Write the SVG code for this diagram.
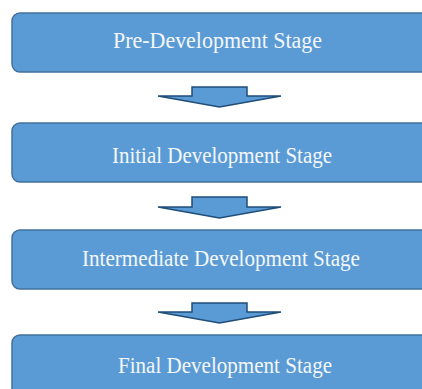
<svg xmlns="http://www.w3.org/2000/svg" width="422" height="389" viewBox="0 0 422 389">
<style>
.box{fill:#5b9bd5;stroke:#41719c;stroke-width:1.5}
.lbl{fill:#f4f7fb;font-family:"Liberation Serif","Times New Roman",serif;font-size:24px;text-anchor:middle}
.arr{fill:#5b9bd5;stroke:#1f4e79;stroke-width:1.5;stroke-linejoin:miter}
</style>
<rect width="422" height="389" fill="#ffffff"/>
<g id="connectors">
<path class="arr" d="M192,87 H247 V96 H281 L219.5,107 L158,96 H192 Z"/>
<path class="arr" d="M192,197 H247 V207 H281 L219.5,218 L158,207 H192 Z"/>
<path class="arr" d="M192,303 H247 V312 H281 L219.5,323 L158,312 H192 Z"/>
</g>
<g id="node1">
<rect class="box" x="12" y="13" width="430" height="59" rx="8"/>
<text class="lbl" x="217.5" y="48" textLength="209" lengthAdjust="spacingAndGlyphs">Pre-Development Stage</text>
</g>
<g id="node2">
<rect class="box" x="12" y="123" width="430" height="59" rx="8"/>
<text class="lbl" x="222" y="163" textLength="220" lengthAdjust="spacingAndGlyphs">Initial Development Stage</text>
</g>
<g id="node3">
<rect class="box" x="12" y="230" width="430" height="59" rx="8"/>
<text class="lbl" x="221" y="266" textLength="278" lengthAdjust="spacingAndGlyphs">Intermediate Development Stage</text>
</g>
<g id="node4">
<rect class="box" x="12" y="335" width="430" height="70" rx="8"/>
<text class="lbl" x="225" y="373" textLength="214" lengthAdjust="spacingAndGlyphs">Final Development Stage</text>
</g>
</svg>
